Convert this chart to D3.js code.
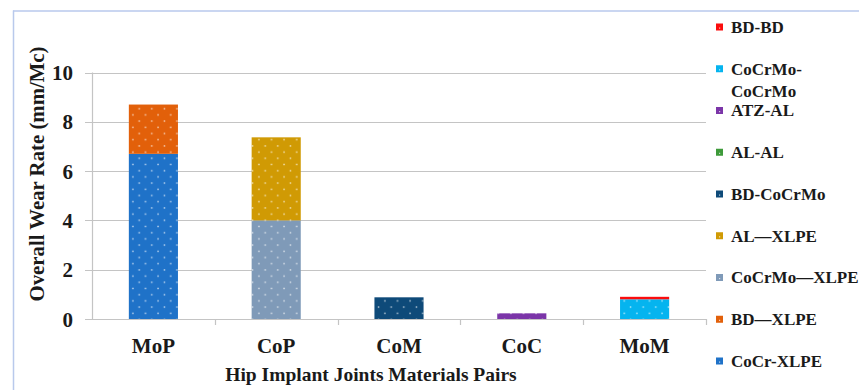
<!DOCTYPE html>
<html>
<head>
<meta charset="utf-8">
<script src="https://cdn.jsdelivr.net/npm/d3@7"></script>
<style>
  html, body { margin: 0; padding: 0; background: #fff; }
  svg { display: block; }
  text { font-family: "Liberation Serif", "DejaVu Serif", serif; font-weight: bold; fill: #1a1a1a; }
</style>
</head>
<body>
<svg id="chart" width="859" height="390"></svg>
<script>
// Hip implant material pairs (x categories)
const categories = ["MoP", "CoP", "CoM", "CoC", "MoM"];

// Stacking order, bottom to top
const seriesNames = [
  "CoCr-XLPE", "BD\u2014XLPE", "CoCrMo\u2014XLPE", "AL\u2014XLPE",
  "BD-CoCrMo", "AL-AL", "ATZ-AL", "CoCrMo-CoCrMo", "BD-BD"
];
const seriesColors = [
  "#1f72c8", "#e2600a", "#7f9ab8", "#d09a04",
  "#0e4a79", "#3e9a3a", "#7b35a8", "#05b4ef", "#fb0d0d"
];
// Overall wear rate (mm/Mc) per series, by category
const valCoCrXLPE     = [6.7, 0,    0,    0,    0];
const valBDXLPE       = [2.0, 0,    0,    0,    0];
const valCoCrMoXLPE   = [0,   4.0,  0,    0,    0];
const valALXLPE       = [0,   3.37, 0,    0,    0];
const valBDCoCrMo     = [0,   0,    0.88, 0,    0];
const valALAL         = [0,   0,    0,    0,    0];
const valATZAL        = [0,   0,    0,    0.23, 0];
const valCoCrMoCoCrMo = [0,   0,    0,    0,    0.8];
const valBDBD         = [0,   0,    0,    0,    0.1];

const yTicks = [0, 2, 4, 6, 8, 10];
const yTitle = "Overall Wear Rate (mm/Mc)";
const xTitle = "Hip Implant Joints Materials Pairs";
// Legend entries that wrap onto two lines
const legendLines = {
  "CoCrMo-CoCrMo": ["CoCrMo-", "CoCrMo"]
};

const seriesValues = [valCoCrXLPE, valBDXLPE, valCoCrMoXLPE, valALXLPE,
  valBDCoCrMo, valALAL, valATZAL, valCoCrMoCoCrMo, valBDBD];

const rows = categories.map((c, i) => {
  const r = { cat: c };
  seriesNames.forEach((s, k) => { r[s] = seriesValues[k][i]; });
  return r;
});

const svg = d3.select("#chart");

// Frame lines of the chart area
svg.append("line").attr("x1", 13.5).attr("x2", 13.5).attr("y1", 10.5).attr("y2", 390)
  .attr("stroke", "#b9c9ec").attr("stroke-width", 1.5);
svg.append("line").attr("x1", 13).attr("x2", 859).attr("y1", 11).attr("y2", 11)
  .attr("stroke", "#b9c9ec").attr("stroke-width", 1.5);

const plot = { left: 92, right: 706, top: 72.5, bottom: 319 };

const x = d3.scaleBand().domain(categories).range([plot.left, plot.right])
  .paddingInner(0.6).paddingOuter(0.3);
const xOuter = d3.scaleBand().domain(categories).range([plot.left, plot.right]);
const y = d3.scaleLinear().domain([0, 10]).range([plot.bottom, plot.top]);

// Dotted fill patterns, one per series
const defs = svg.append("defs");
seriesNames.forEach((s, k) => {
  const p = defs.append("pattern").attr("id", "pat" + k)
    .attr("patternUnits", "userSpaceOnUse")
    .attr("width", 12.6).attr("height", 12.4)
    .attr("x", 129).attr("y", 0);
  p.append("rect").attr("width", 12.6).attr("height", 12.4).attr("fill", seriesColors[k]);
  p.append("rect").attr("x", 3.2).attr("y", 2.6).attr("width", 1.4).attr("height", 1.4)
    .attr("fill", "#fff").attr("opacity", 0.75);
  p.append("rect").attr("x", 9.5).attr("y", 8.8).attr("width", 1.4).attr("height", 1.4)
    .attr("fill", "#fff").attr("opacity", 0.75);
});

// Gridlines
svg.append("g").selectAll("line").data(yTicks).join("line")
  .attr("x1", plot.left - 7).attr("x2", plot.right)
  .attr("y1", d => Math.round(y(d)) + 0.5).attr("y2", d => Math.round(y(d)) + 0.5)
  .attr("stroke", "#c4c4c4").attr("stroke-width", 1.2);

// Value axis line
svg.append("line").attr("x1", plot.left + 0.5).attr("x2", plot.left + 0.5)
  .attr("y1", y(10)).attr("y2", plot.bottom)
  .attr("stroke", "#c4c4c4").attr("stroke-width", 1.2);

// Category axis tick marks at band boundaries
const bounds = categories.map(c => xOuter(c) + xOuter.bandwidth());
svg.append("g").selectAll("line").data(bounds).join("line")
  .attr("x1", d => Math.round(d) + 0.5).attr("x2", d => Math.round(d) + 0.5)
  .attr("y1", plot.bottom).attr("y2", plot.bottom + 6)
  .attr("stroke", "#c4c4c4").attr("stroke-width", 1.2);

// Y tick labels
svg.append("g").selectAll("text").data(yTicks).join("text")
  .attr("x", 73).attr("y", d => y(d)).attr("dy", "0.36em")
  .attr("text-anchor", "end").attr("font-size", 21).text(d => d);

// Stacked bars
const stack = d3.stack().keys(seriesNames)(rows);
const barG = svg.append("g");
stack.forEach((layer, k) => {
  barG.selectAll(null).data(layer.filter(d => d[1] - d[0] > 0)).join("rect")
    .attr("x", d => x(d.data.cat))
    .attr("width", x.bandwidth())
    .attr("y", d => y(d[1]))
    .attr("height", d => y(d[0]) - y(d[1]))
    .attr("fill", "url(#pat" + k + ")");
});

// Category labels
svg.append("g").selectAll("text").data(categories).join("text")
  .attr("x", d => x(d) + x.bandwidth() / 2).attr("y", 353)
  .attr("text-anchor", "middle").attr("font-size", 21).text(d => d);

// Axis titles
svg.append("text").attr("x", 371).attr("y", 381)
  .attr("text-anchor", "middle").attr("font-size", 19.5).text(xTitle);
svg.append("text").attr("transform", "translate(44,174) rotate(-90)")
  .attr("text-anchor", "middle").attr("font-size", 20.8).text(yTitle);

// Legend, listed top-down in reverse stacking order
const legendOrder = seriesNames.map((s, k) => k).reverse();
const lg = svg.append("g");
legendOrder.forEach((k, i) => {
  const cy = 27 + i * 41.75;
  lg.append("rect").attr("x", 716).attr("y", cy - 3.5).attr("width", 7).attr("height", 7)
    .attr("fill", seriesColors[k]);
  lg.append("rect").attr("x", 719).attr("y", cy + 0.5).attr("width", 1.2).attr("height", 1.2)
    .attr("fill", "#fff").attr("opacity", 0.7);
  const lines = legendLines[seriesNames[k]] || [seriesNames[k]];
  lines.forEach((t, j) => {
    lg.append("text").attr("x", 731).attr("y", cy + j * 22.5).attr("dy", "0.35em")
      .attr("font-size", 17).text(t);
  });
});
</script>
</body>
</html>
